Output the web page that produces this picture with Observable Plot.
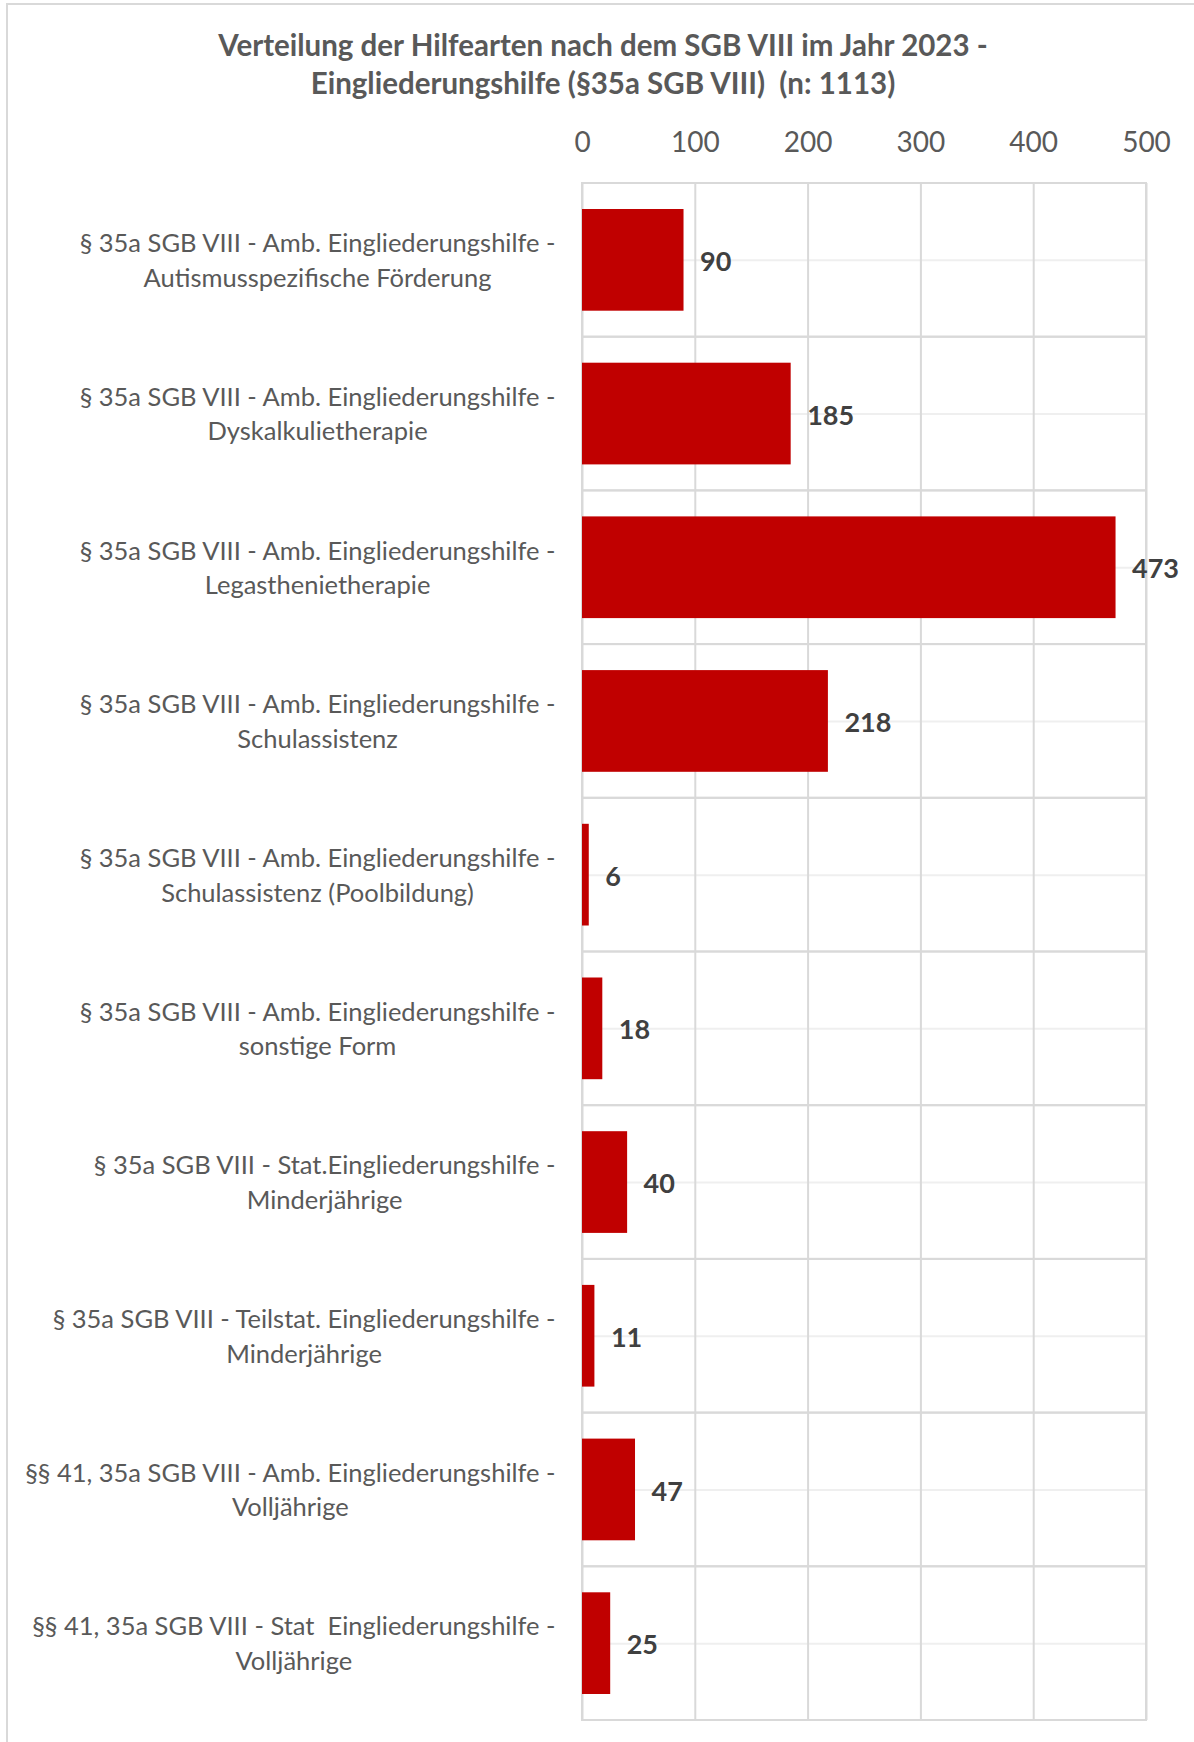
<!DOCTYPE html>
<html><head><meta charset="utf-8">
<script src="https://cdn.jsdelivr.net/npm/d3@7"></script>
<script src="https://cdn.jsdelivr.net/npm/@observablehq/plot@0.6"></script>
<style>
body{margin:0;background:#fff;font-family:Lato,"Open Sans",sans-serif;}
#wrap{position:relative;width:1194px;height:1742px;overflow:hidden;}
#border{position:absolute;left:6px;top:3px;width:1300px;height:1800px;border-left:2px solid #d9d9d9;border-top:2px solid #d9d9d9;}
#title{position:absolute;left:6px;top:26px;width:1194px;text-align:center;font-weight:bold;font-size:29.5px;line-height:38px;color:#595959;}
#chart{position:absolute;left:0;top:0;}
</style></head>
<body><div id="wrap"><div id="border"></div><div id="chart"></div>
<div id="title">Verteilung der Hilfearten nach dem SGB VIII im Jahr 2023 -<br>Eingliederungshilfe (§35a SGB VIII)&nbsp; (n: 1113)</div></div>
<script>
const categories = [
  "§ 35a SGB VIII - Amb. Eingliederungshilfe -\nAutismusspezifische Förderung",
  "§ 35a SGB VIII - Amb. Eingliederungshilfe -\nDyskalkulietherapie",
  "§ 35a SGB VIII - Amb. Eingliederungshilfe -\nLegasthenietherapie",
  "§ 35a SGB VIII - Amb. Eingliederungshilfe -\nSchulassistenz",
  "§ 35a SGB VIII - Amb. Eingliederungshilfe -\nSchulassistenz (Poolbildung)",
  "§ 35a SGB VIII - Amb. Eingliederungshilfe -\nsonstige Form",
  "§ 35a SGB VIII - Stat.Eingliederungshilfe -\nMinderjährige",
  "§ 35a SGB VIII - Teilstat. Eingliederungshilfe -\nMinderjährige",
  "§§ 41, 35a SGB VIII - Amb. Eingliederungshilfe -\nVolljährige",
  "§§ 41, 35a SGB VIII - Stat  Eingliederungshilfe -\nVolljährige"
];
const values = [90, 185, 473, 218, 6, 18, 40, 11, 47, 25];
const xTicks = [0, 100, 200, 300, 400, 500];

const data = categories.map((c, i) => ({cat: c, value: values[i]}));
const font = "Lato, 'Open Sans', sans-serif";

const chart = Plot.plot({
  width: 1194,
  height: 1742,
  marginTop: 183,
  marginBottom: 22,
  marginLeft: 582,
  marginRight: 48,
  style: {fontFamily: font, background: "transparent"},
  x: {domain: [0, 500], ticks: xTicks},
  y: {domain: categories, padding: 0, round: false},
  marks: [
    Plot.ruleY(categories, {y: d => d, stroke: "#efefef", strokeWidth: 2}),
    Plot.gridX(xTicks, {stroke: "#d9d9d9", strokeOpacity: 1, strokeWidth: 2}),
    Plot.barX(categories, {y: d => d, x1: d => 0, x2: d => 500, fill: "none", stroke: "#d9d9d9", strokeWidth: 2}),
    Plot.barX(data, {y: "cat", x: "value", fill: "#c00000", insetTop: 26, insetBottom: 26}),
    Plot.text(data, {y: "cat", x: "value", text: d => String(d.value), textAnchor: "start", dx: 16, dy: 2, fontWeight: "bold", fontSize: 27, fill: "#404040"}),
    Plot.text(data, {y: "cat", frameAnchor: "left", text: "cat", textAnchor: "end", dx: -27, dy: -2, lineHeight: 1.36, fontSize: 25.5, fill: "#595959"}),
    Plot.axisX(xTicks, {anchor: "top", tickSize: 0, tickPadding: 32, fontSize: 28, color: "#595959", label: null}),
    Plot.axisY({ticks: [], label: null, tickSize: 0})
  ]
});
document.getElementById("chart").appendChild(chart);

// center second line under first line, keeping the first line right-aligned
const groups = chart.querySelectorAll("g[aria-label='text']");
const labelGroup = groups[groups.length - 1];
labelGroup.querySelectorAll("text").forEach(t => {
  const spans = t.querySelectorAll("tspan");
  if (!spans.length) return;
  const w = spans[0].getComputedTextLength();
  t.setAttribute("text-anchor", "middle");
  spans.forEach(s => s.setAttribute("x", -w / 2));
});
</script></body></html>
